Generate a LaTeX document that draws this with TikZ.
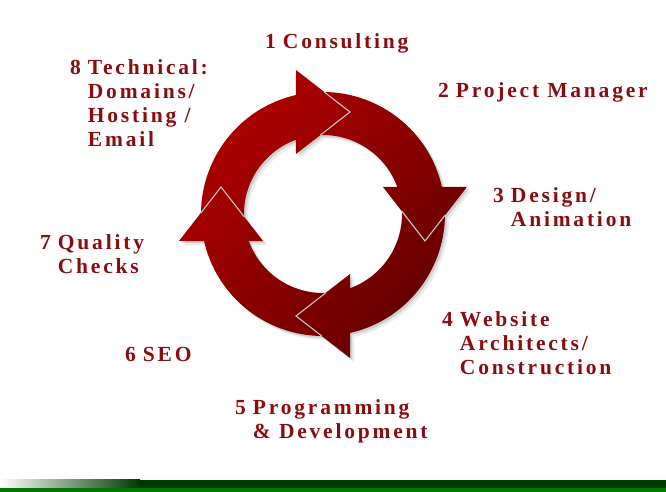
\documentclass[tikz,border=0pt]{standalone}
\usepackage{fontspec}
\usetikzlibrary{shadings}
\setmainfont{Liberation Serif}
\newfontfamily\stepfont{Liberation Serif}[LetterSpace=13]
\definecolor{RingBright}{HTML}{C00000}
\definecolor{RingMid}{HTML}{900000}
\definecolor{RingDark}{HTML}{4C0000}
\definecolor{LabelRed}{HTML}{8B0C0C}
\definecolor{FooterDark}{HTML}{003A00}
\definecolor{FooterGreen}{HTML}{007800}

% ring sizes
\newcommand{\ringin}{79pt}
\newcommand{\ringout}{122pt}
\newcommand{\tipr}{105.5pt}

% one arrow of the cycle, turned by #1 (head of the top arrow points right)
\newcommand{\cyclearrow}[1]{({#1+179.4}:\ringout) arc[start angle={#1+179.4}, end angle={#1+102.8}, radius=\ringout]
  -- ({#1+100.62}:146.5pt) -- ({#1+75.17}:\tipr) -- ({#1+114.23}:65.8pt) -- ({#1+110}:\ringin)
  arc[start angle={#1+110}, end angle={#1+181.9}, radius=\ringin] -- ({#1+165.17}:\tipr) -- cycle}

% number and text lines of one step
\newcommand{\steprow}[2]{\begin{tabular}[t]{@{}l@{\hspace{7pt}}l@{}}#1 & \begin{tabular}[t]{@{}l@{}}#2\end{tabular}\end{tabular}}

\tikzset{
  steplabel/.style={font=\stepfont\bfseries\fontsize{21.5}{24}\selectfont, text=LabelRed, inner sep=0pt, anchor=base west},
  notch/.style={draw=gray!45, line width=1.1pt}
}

\begin{document}
\begin{tikzpicture}[x=1pt, y=1pt]
    \useasboundingbox (0,0) rectangle (666,492);

    % Shadow of the ring
    \begin{scope}[shift={(327,274)}]
        \fill[black, opacity=0.08] \cyclearrow{0} \cyclearrow{-90} \cyclearrow{-180} \cyclearrow{-270};
    \end{scope}
    \begin{scope}[shift={(325,276)}]
        \fill[black, opacity=0.12] \cyclearrow{0} \cyclearrow{-90} \cyclearrow{-180} \cyclearrow{-270};
    \end{scope}

    % Ring of four arrows
    \begin{scope}[shift={(323,278)}]
        \begin{scope}
            \clip \cyclearrow{0} \cyclearrow{-90} \cyclearrow{-180} \cyclearrow{-270};
            \shade[upper left=RingBright, upper right=RingMid, lower left=RingMid, lower right=RingDark] (-150,-150) rectangle (150,150);
        \end{scope}
        \foreach \t in {0,-90,-180,-270}
            \draw[notch] ({\t+179.4}:\ringout) -- ({\t+165.17}:\tipr) -- ({\t+181.9}:\ringin);
    \end{scope}

    % Steps
    \node[steplabel] (consult) at (265,443) {\steprow{1}{Consulting}};
    \node[steplabel] (manager) at (438,394) {\steprow{2}{Project Manager}};
    \node[steplabel] (design) at (493,289) {\steprow{3}{Design/\\Animation}};
    \node[steplabel] (website) at (442,165) {\steprow{4}{Website\\Architects/\\Construction}};
    \node[steplabel] (program) at (235,77) {\steprow{5}{Programming\\\& Development}};
    \node[steplabel] (seo) at (125,130) {\steprow{6}{SEO}};
    \node[steplabel] (quality) at (40,242) {\steprow{7}{Quality\\Checks}};
    \node[steplabel] (technical) at (70,417) {\steprow{8}{Technical:\\Domains/\\Hosting /\\Email}};

    % Footer bar
    \shade[left color=white, right color=FooterDark] (0,4) rectangle (140,12);
    \fill[FooterDark] (140,4) rectangle (666,12);
    \fill[FooterGreen] (0,0) rectangle (666,4);
\end{tikzpicture}
\end{document}
